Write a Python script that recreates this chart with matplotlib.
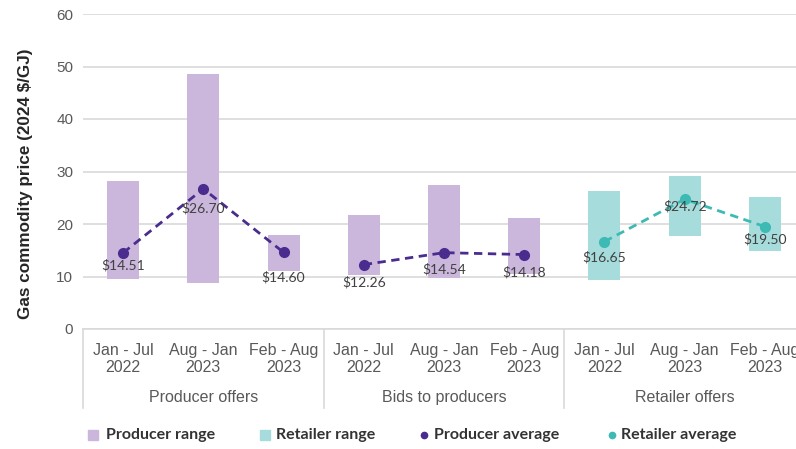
import matplotlib
matplotlib.use("Agg")
import matplotlib.pyplot as plt
from matplotlib.lines import Line2D
from matplotlib.transforms import blended_transform_factory

# ---- data ----
periods = ["Jan - Jul\n2022", "Aug - Jan\n2023", "Feb - Aug\n2023"]
groups = ["Producer offers", "Bids to producers", "Retailer offers"]

producer_low = [9.5, 8.8, 11.0, 10.2, 9.8, 10.5]
producer_high = [28.2, 48.6, 18.0, 21.7, 27.4, 21.2]
producer_avg = [14.51, 26.70, 14.60, 12.26, 14.54, 14.18]

retailer_low = [9.4, 17.7, 14.8]
retailer_high = [26.3, 29.2, 25.1]
retailer_avg = [16.65, 24.72, 19.50]

legend_labels = ["Producer range", "Retailer range", "Producer average", "Retailer average"]

# label offsets (points) – style only
prod_lab_dy = [-9, -14, -18, -13, -12, -13]
ret_lab_dy = [-11, -5, -9]

# ---- style ----
c_prod_bar = "#cbb6dc"
c_ret_bar = "#a6dcdc"
c_prod_avg = "#4a2c8f"
c_ret_avg = "#3cbab3"
c_text = "#404040"
c_tick = "#595959"
c_grid = "#d9d9d9"

W, H = 796, 449
fig = plt.figure(figsize=(W / 100, H / 100), dpi=100)
L, R, B, T = 83 / W, 805 / W, 120 / H, 435 / H
ax = fig.add_axes([L, B, R - L, T - B])

n_prod = len(producer_avg)
xp = list(range(n_prod))
xr = [n_prod + i for i in range(len(retailer_avg))]

ax.bar(xp, [h - l for h, l in zip(producer_high, producer_low)], bottom=producer_low,
       width=0.4, color=c_prod_bar, zorder=2)
ax.bar(xr, [h - l for h, l in zip(retailer_high, retailer_low)], bottom=retailer_low,
       width=0.4, color=c_ret_bar, zorder=2)

dash = (0, (3, 2))
for g in range(2):
    xs = xp[3 * g:3 * g + 3]
    ys = producer_avg[3 * g:3 * g + 3]
    ax.plot(xs, ys, color=c_prod_avg, lw=2, linestyle=dash, zorder=3)
    ax.plot(xs, ys, 'o', color=c_prod_avg, ms=7, zorder=4)
ax.plot(xr, retailer_avg, color=c_ret_avg, lw=2, linestyle=dash, zorder=3)
ax.plot(xr, retailer_avg, 'o', color=c_ret_avg, ms=7, zorder=4)

for x, v, dy in zip(xp, producer_avg, prod_lab_dy):
    ax.annotate(f"${v:.2f}", (x, v), xytext=(0, dy), textcoords="offset points",
                ha="center", va="center", fontsize=10, color=c_text,
                family="Lato", zorder=5)
for x, v, dy in zip(xr, retailer_avg, ret_lab_dy):
    ax.annotate(f"${v:.2f}", (x, v), xytext=(0, dy), textcoords="offset points",
                ha="center", va="center", fontsize=10, color=c_text,
                family="Lato", zorder=5)

ax.set_ylim(0, 60)
ax.set_xlim(-0.5, 8.5)
ax.set_yticks(range(0, 61, 10))
ax.yaxis.grid(True, color=c_grid, lw=1.2, zorder=0)
ax.set_axisbelow(True)
for s in ["top", "right", "left"]:
    ax.spines[s].set_visible(False)
ax.spines["bottom"].set_color(c_grid)
ax.spines["bottom"].set_linewidth(1.2)
ax.tick_params(axis="y", length=0, labelsize=11, labelcolor=c_tick, pad=7)
for t in ax.get_yticklabels():
    t.set_family("Liberation Sans")
ax.set_xticks(range(9))
ax.set_xticklabels(periods * 3, fontsize=11.5, color=c_tick, family="Liberation Sans",
                   linespacing=1.2)
ax.tick_params(axis="x", length=0, pad=10)

trans = blended_transform_factory(ax.transData, ax.transAxes)
for xb in [-0.5, 2.5, 5.5, 8.5]:
    ax.add_line(Line2D([xb, xb], [0, -0.252], transform=trans, color=c_grid, lw=1.2,
                       clip_on=False))
for i, g in enumerate(groups):
    ax.text(3 * i + 1, -0.216, g, transform=trans, ha="center", va="center",
            fontsize=11.5, color=c_tick, family="Liberation Sans")

ax.set_ylabel("Gas commodity price (2024 $/GJ)", fontsize=12.3, fontweight="bold",
              color="#262626", family="Liberation Sans", va="center")
ax.yaxis.set_label_coords(-0.080, 0.462)

# ---- legend (manual layout) ----
leg_y = 1 - 435 / H
leg_items = [
    ("s", c_prod_bar, 7, 93, 106),
    ("s", c_ret_bar, 7, 265, 276),
    ("o", c_prod_avg, 4.5, 424, 434),
    ("o", c_ret_avg, 4.5, 612, 621),
]
for (mk, col, ms, mx, tx), lab in zip(leg_items, legend_labels):
    fig.add_artist(Line2D([mx / W], [leg_y], marker=mk, color=col, ms=ms, ls="none",
                          transform=fig.transFigure))
    fig.text(tx / W, leg_y, lab, ha="left", va="center", fontsize=11.5,
             fontweight="bold", family="Lato", color="#333333")

fig.savefig("out.png", dpi=100)
